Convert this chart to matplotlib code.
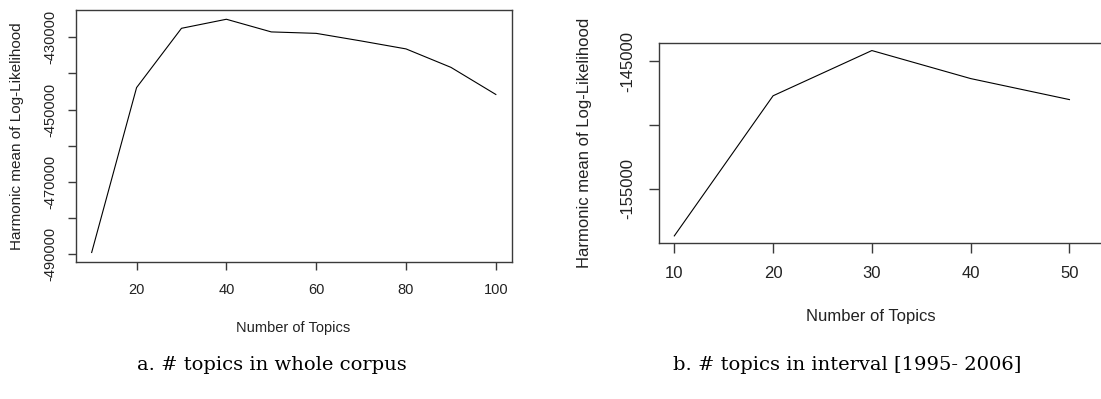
import matplotlib
matplotlib.use("Agg")
import matplotlib.pyplot as plt

# ---- data ----
left_topics = [10, 20, 30, 40, 50, 60, 70, 80, 90, 100]
left_loglik = [-489500, -443900, -427500, -425000, -428500, -428900, -431000, -433200, -438300, -445800]
left_xticks = [20, 40, 60, 80, 100]
left_yticks = [-490000, -480000, -470000, -460000, -450000, -440000, -430000]
left_ylabels = ["-490000", "", "-470000", "", "-450000", "", "-430000"]

right_topics = [10, 20, 30, 40, 50]
right_loglik = [-158700, -147700, -144150, -146350, -148000]
right_xticks = [10, 20, 30, 40, 50]
right_yticks = [-155000, -150000, -145000]
right_ylabels = ["-155000", "", "-145000"]

xlabel = "Number of Topics"
ylabel = "Harmonic mean of Log-Likelihood"
caption_a = "a. # topics in whole corpus"
caption_b = "b. # topics in interval [1995- 2006]"

plt.rcParams['font.family'] = ['Liberation Sans', 'DejaVu Sans']

W, H = 1101, 399
fig = plt.figure(figsize=(W / 100, H / 100), dpi=100)
fig.patch.set_facecolor('white')

def ax_rect(l, r, t, b):
    return [l / W, 1 - b / H, (r - l) / W, (b - t) / H]

spine_c = '#3a3a3a'
text_c = '#222222'

def style(ax, fs, ticklen, padx, pady):
    for s in ax.spines.values():
        s.set_color(spine_c)
        s.set_linewidth(1.0)
    ax.tick_params(axis='both', direction='out', length=ticklen, width=1.0,
                   color=spine_c, labelcolor=text_c, labelsize=fs)
    ax.tick_params(axis='x', pad=padx)
    ax.tick_params(axis='y', pad=pady)
    for lab in ax.get_yticklabels():
        lab.set_rotation(90)
        lab.set_va('center')

# left panel
ax1 = fig.add_axes(ax_rect(75.5, 512, 10, 262))
ax1.plot(left_topics, left_loglik, color='black', lw=0.8)
ax1.set_xlim(6.4, 103.6)
ax1.set_ylim(-492130, -422440)
ax1.set_xticks(left_xticks)
ax1.set_yticks(left_yticks)
ax1.set_yticklabels(left_ylabels)
style(ax1, 10.5, 6, 9, 7)
fig.text(293 / W, 1 - 328 / H, xlabel, ha='center', va='center', fontsize=10.5, color=text_c)
fig.text(17 / W, 1 - 136 / H, ylabel, ha='center', va='center', rotation=90, fontsize=11, color=text_c)

# right panel
ax2 = fig.add_axes(ax_rect(658.5, 1105, 43.3, 243.3))
ax2.plot(right_topics, right_loglik, color='black', lw=0.8)
ax2.set_xlim(8.4, 53.6)
ax2.set_ylim(-159281, -143581)
ax2.set_xticks(right_xticks)
ax2.set_yticks(right_yticks)
ax2.set_yticklabels(right_ylabels)
style(ax2, 12, 7, 9, 9.5)
fig.text(871 / W, 1 - 316 / H, xlabel, ha='center', va='center', fontsize=12, color=text_c)
fig.text(584 / W, 1 - 143 / H, ylabel, ha='center', va='center', rotation=90, fontsize=12, color=text_c)

# captions
fig.text(272 / W, 1 - 365 / H, caption_a, ha='center', va='center', fontsize=14,
         family='DejaVu Serif', color='black')
fig.text(847 / W, 1 - 365 / H, caption_b, ha='center', va='center', fontsize=14,
         family='DejaVu Serif', color='black')

fig.savefig('out.png', dpi=100, facecolor='white')
